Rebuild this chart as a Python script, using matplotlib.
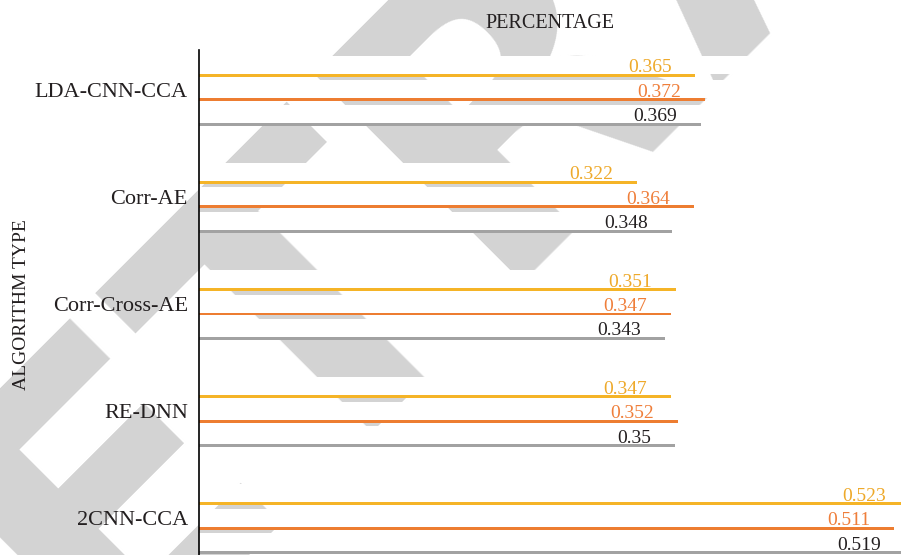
import sys

import matplotlib
matplotlib.use("Agg")
import matplotlib.pyplot as plt

algorithms = ["LDA-CNN-CCA", "Corr-AE", "Corr-Cross-AE", "RE-DNN", "2CNN-CCA"]
series_top = [0.365, 0.322, 0.351, 0.347, 0.523]
series_mid = [0.372, 0.364, 0.347, 0.352, 0.511]
series_low = [0.369, 0.348, 0.343, 0.35, 0.519]
value_labels_top = ["0.365", "0.322", "0.351", "0.347", "0.523"]
value_labels_mid = ["0.372", "0.364", "0.347", "0.352", "0.511"]
value_labels_low = ["0.369", "0.348", "0.343", "0.35", "0.519"]


def main() -> int:
    plt.rcParams["font.family"] = ["Liberation Serif", "DejaVu Serif"]

    fig = plt.figure(figsize=(9.01, 5.55), dpi=100)
    ax = fig.add_axes([199 / 901, -23 / 555, 702 / 901, 528 / 555])
    ax.patch.set_alpha(0)

    # stamp behind the plot
    fig.text(740 / 901, 1 + 130 / 555, "RETRACTED", rotation=45, rotation_mode="anchor",
             ha="center", va="center", fontsize=290, fontweight="bold",
             family="DejaVu Sans", color="#D3D3D3", zorder=-1)

    offset = 0.2288
    thickness = 0.028
    band = 0.168
    xmax = 702 / 1360
    groups = [
        (series_top, value_labels_top, -offset, "#F5B427", "#EEA92A"),
        (series_mid, value_labels_mid, 0.0, "#ED7D31", "#EF7E3A"),
        (series_low, value_labels_low, offset, "#A2A2A2", "#231F20"),
    ]

    for values, labels, shift, bar_color, text_color in groups:
        ys = [i + shift for i in range(len(algorithms))]
        # white strip above each bar where its label sits
        ax.barh([y - thickness / 2 - band / 2 for y in ys], [xmax] * len(ys),
                height=band, color="white", zorder=2)
        ax.barh(ys, values, height=thickness, color=bar_color, zorder=3)
        for v, y, lab in zip(values, ys, labels):
            ax.annotate(lab, xy=(v, y), xytext=(-24, 3), textcoords="offset pixels",
                        ha="right", va="baseline", fontsize=14, color=text_color,
                        annotation_clip=False, zorder=4)

    ax.set_xlim(0, xmax)
    ax.set_ylim(len(algorithms) - 1 + 0.466, -0.466)

    ax.set_yticks([i - 0.093 for i in range(len(algorithms))])
    ax.set_yticklabels(algorithms, fontsize=16, color="#231F20")
    ax.tick_params(axis="y", length=0, pad=8)
    ax.set_xticks([])

    for side in ["top", "right", "bottom"]:
        ax.spines[side].set_visible(False)
    ax.spines["left"].set_color("black")
    ax.spines["left"].set_linewidth(1.2)
    ax.spines["left"].set_zorder(5)

    ax.set_title("PERCENTAGE", fontsize=14.5, color="#231F20", pad=16)
    fig.text(22 / 901, 1 - 305 / 555, "ALGORITHM TYPE", rotation=90,
             ha="center", va="center", fontsize=14, color="#231F20")

    fig.savefig("out.png", dpi=100)
    return 0


if __name__ == "__main__":
    sys.exit(main())
